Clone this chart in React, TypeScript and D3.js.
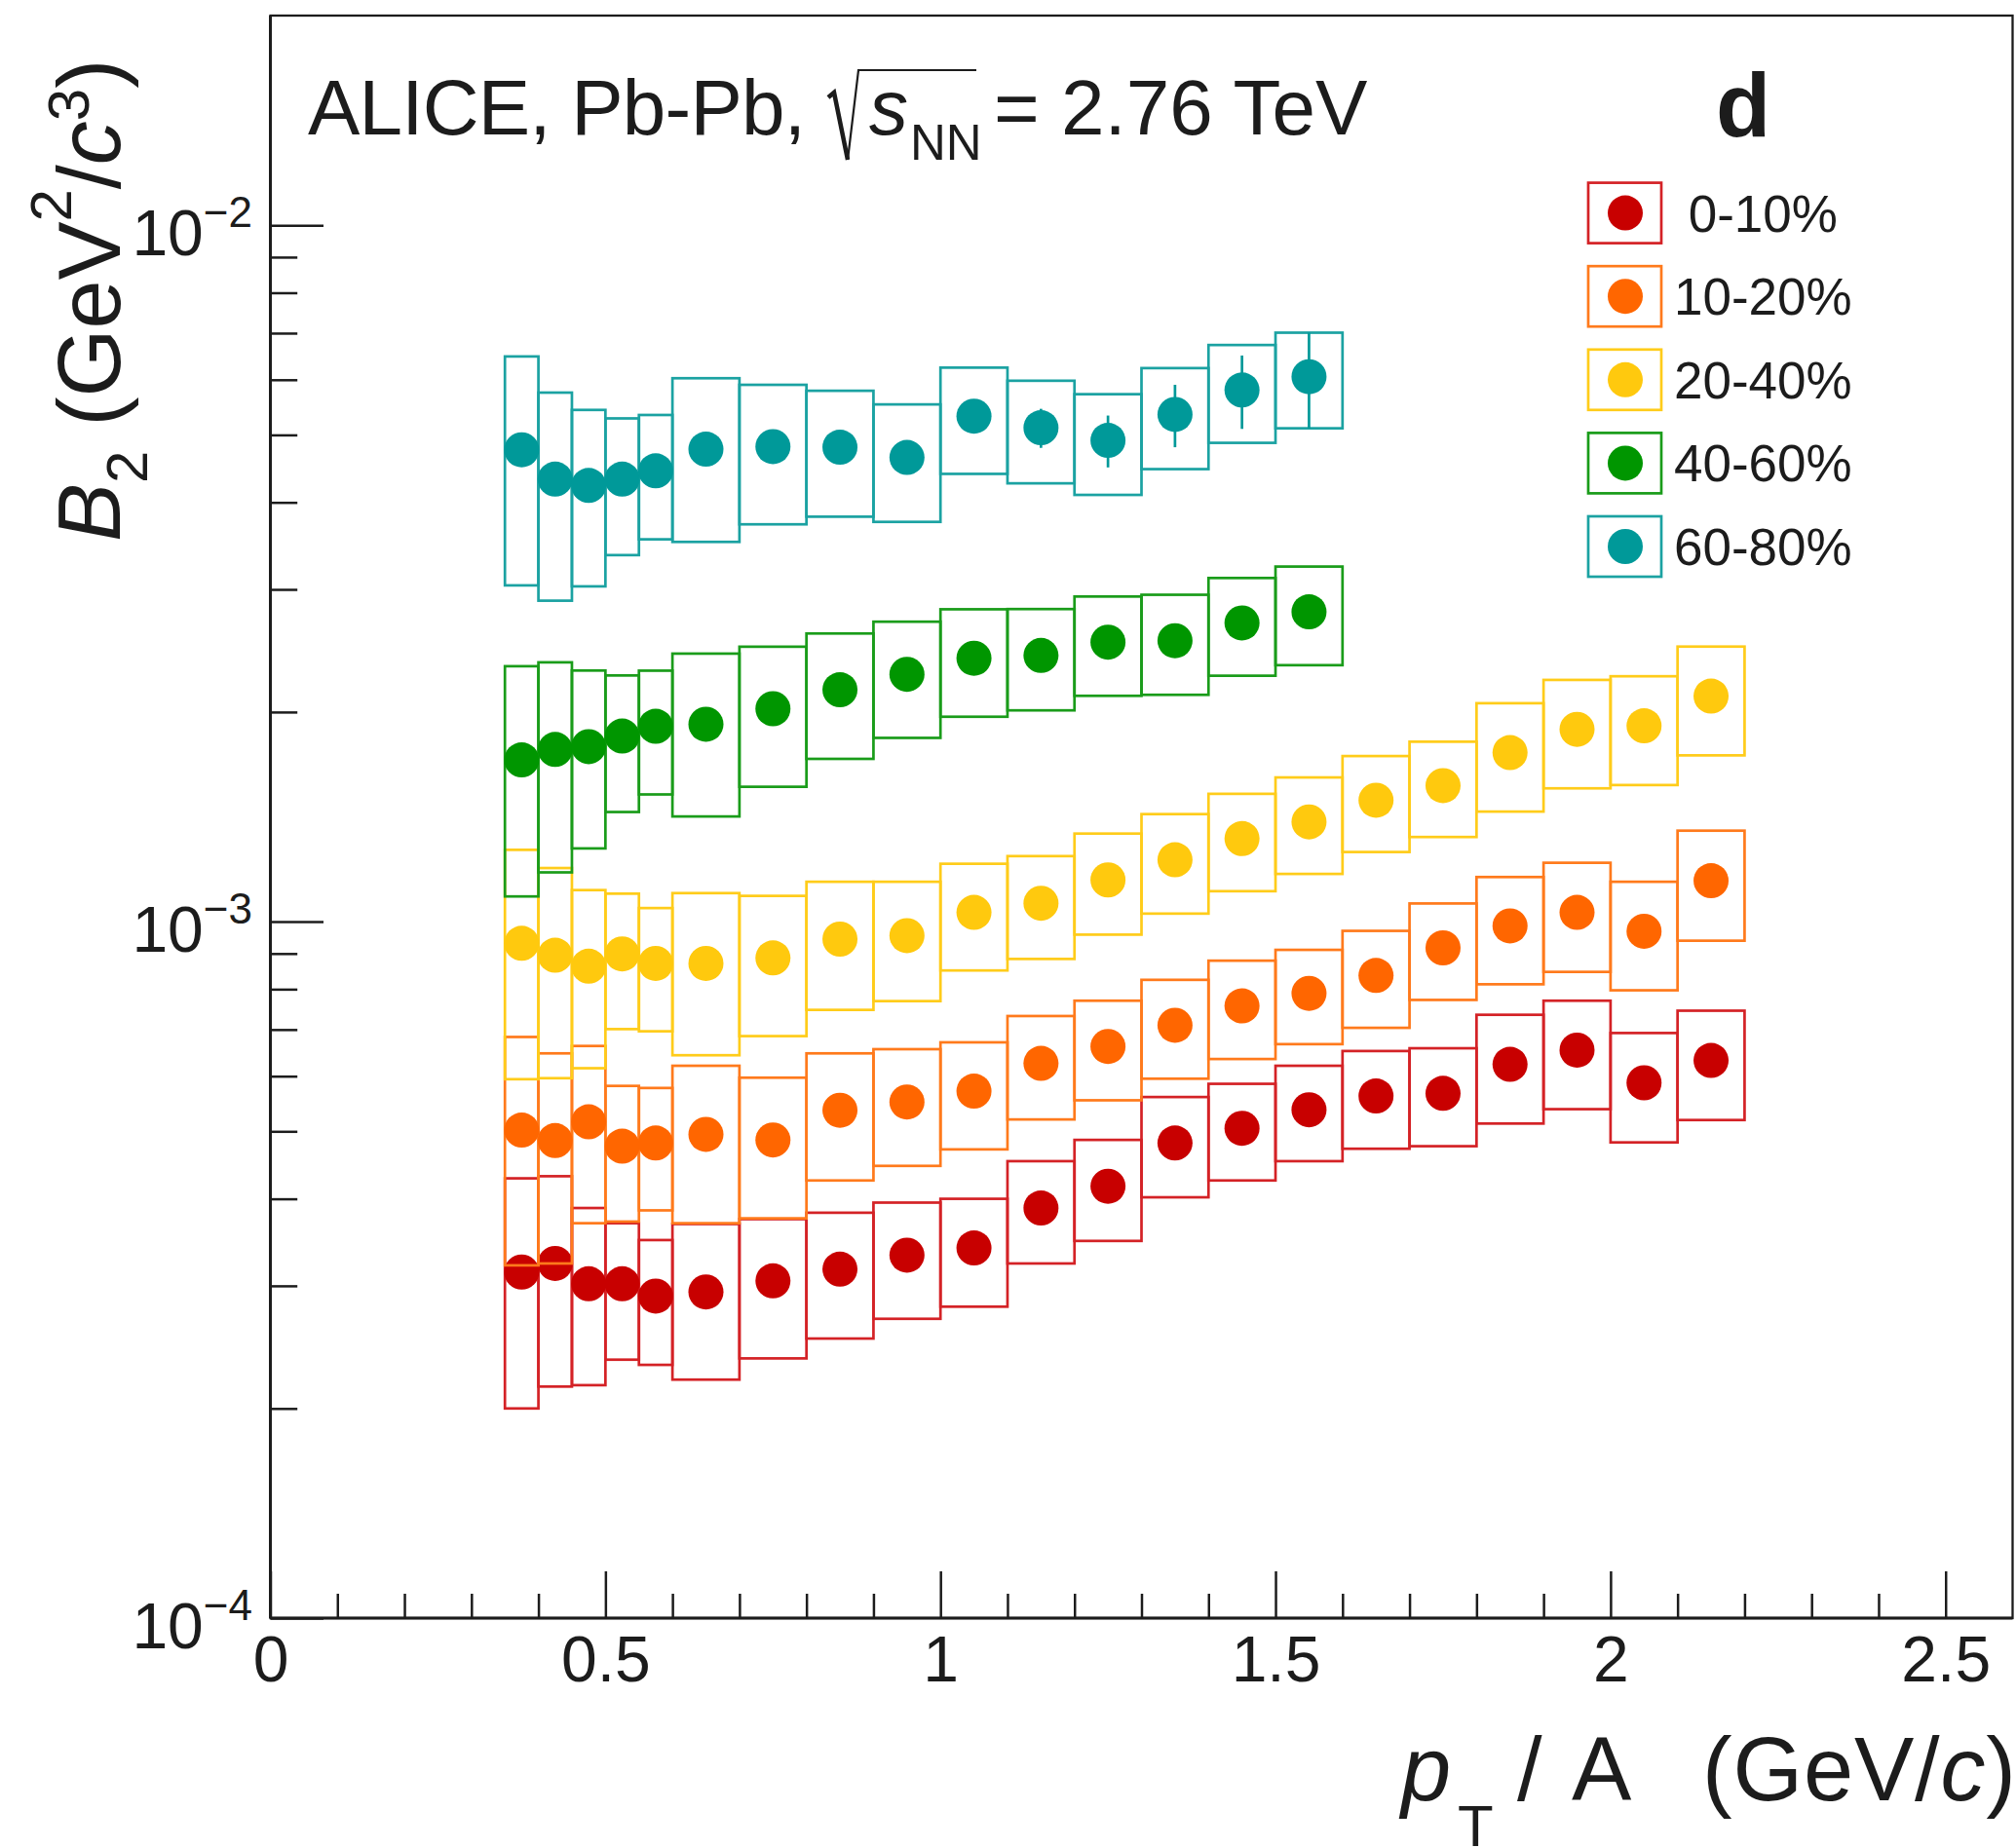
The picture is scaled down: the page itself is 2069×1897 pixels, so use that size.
import React, { useRef, useEffect } from 'react';
import * as d3 from 'd3';

// bin edges in pT/A (GeV/c)
const binLo = [0.35, 0.4, 0.45, 0.5, 0.55, 0.6, 0.7, 0.8, 0.9, 1.0, 1.1, 1.2, 1.3, 1.4, 1.5, 1.6, 1.7, 1.8, 1.9, 2.0, 2.1];
const binHi = [0.4, 0.45, 0.5, 0.55, 0.6, 0.7, 0.8, 0.9, 1.0, 1.1, 1.2, 1.3, 1.4, 1.5, 1.6, 1.7, 1.8, 1.9, 2.0, 2.1, 2.2];

const centLabels = [" 0-10%", "10-20%", "20-40%", "40-60%", "60-80%"];

// B2 values and systematic uncertainties
const b2_0_10 = [3.14e-4, 3.23e-4, 3.02e-4, 3.02e-4, 2.90e-4, 2.94e-4, 3.05e-4, 3.17e-4, 3.32e-4, 3.40e-4, 3.88e-4, 4.17e-4, 4.81e-4, 5.05e-4, 5.37e-4, 5.62e-4, 5.67e-4, 6.24e-4, 6.54e-4, 5.87e-4, 6.32e-4];
const sys_0_10 = [1.14e-4, 1.08e-4, 0.86e-4, 0.67e-4, 0.59e-4, 0.74e-4, 0.69e-4, 0.65e-4, 0.63e-4, 0.60e-4, 0.65e-4, 0.69e-4, 0.79e-4, 0.80e-4, 0.84e-4, 0.90e-4, 0.91e-4, 1.11e-4, 1.16e-4, 1.05e-4, 1.13e-4];

const b2_10_20 = [5.02e-4, 4.85e-4, 5.16e-4, 4.76e-4, 4.81e-4, 4.95e-4, 4.86e-4, 5.36e-4, 5.51e-4, 5.71e-4, 6.26e-4, 6.62e-4, 7.10e-4, 7.57e-4, 7.89e-4, 8.37e-4, 9.17e-4, 9.86e-4, 10.31e-4, 9.69e-4, 11.45e-4];
const sys_10_20 = [1.81e-4, 1.62e-4, 1.47e-4, 1.05e-4, 0.96e-4, 1.26e-4, 1.11e-4, 1.11e-4, 1.05e-4, 1.00e-4, 1.06e-4, 1.08e-4, 1.15e-4, 1.22e-4, 1.22e-4, 1.33e-4, 1.45e-4, 1.73e-4, 1.84e-4, 1.72e-4, 2.06e-4];

const b2_20_40 = [9.31e-4, 8.95e-4, 8.63e-4, 8.99e-4, 8.71e-4, 8.71e-4, 8.87e-4, 9.44e-4, 9.55e-4, 1.031e-3, 1.063e-3, 1.148e-3, 1.227e-3, 1.316e-3, 1.391e-3, 1.494e-3, 1.568e-3, 1.749e-3, 1.889e-3, 1.911e-3, 2.108e-3];
const sys_20_40 = [3.37e-4, 2.99e-4, 2.47e-4, 1.98e-4, 1.75e-4, 2.28e-4, 2.02e-4, 1.97e-4, 1.86e-4, 1.80e-4, 1.79e-4, 1.90e-4, 2.00e-4, 2.10e-4, 2.20e-4, 2.35e-4, 2.45e-4, 3.10e-4, 3.35e-4, 3.40e-4, 3.75e-4];

const b2_40_60 = [1.707e-3, 1.767e-3, 1.784e-3, 1.847e-3, 1.908e-3, 1.921e-3, 2.022e-3, 2.153e-3, 2.266e-3, 2.389e-3, 2.411e-3, 2.520e-3, 2.532e-3, 2.685e-3, 2.785e-3];
const sys_40_60 = [0.62e-3, 0.59e-3, 0.51e-3, 0.41e-3, 0.385e-3, 0.505e-3, 0.46e-3, 0.44e-3, 0.43e-3, 0.42e-3, 0.40e-3, 0.41e-3, 0.415e-3, 0.43e-3, 0.45e-3];

const b2_60_80 = [4.76e-3, 4.32e-3, 4.23e-3, 4.32e-3, 4.44e-3, 4.77e-3, 4.81e-3, 4.80e-3, 4.64e-3, 5.32e-3, 5.12e-3, 4.91e-3, 5.35e-3, 5.80e-3, 6.06e-3];
const sys_60_80 = [1.72e-3, 1.43e-3, 1.20e-3, 0.96e-3, 0.90e-3, 1.26e-3, 1.09e-3, 0.985e-3, 0.89e-3, 0.925e-3, 0.86e-3, 0.81e-3, 0.885e-3, 0.93e-3, 0.95e-3];
const stat_60_80 = [0.06e-3, 0.06e-3, 0.06e-3, 0.06e-3, 0.06e-3, 0.08e-3, 0.10e-3, 0.12e-3, 0.15e-3, 0.22e-3, 0.33e-3, 0.42e-3, 0.55e-3, 0.70e-3, 0.95e-3];

const markerColors = ["#c80000", "#ff6600", "#ffc90e", "#009600", "#009999"];
const boxColors = ["#d42226", "#ff7a1c", "#ffcc1a", "#1a9c1a", "#1ba2a2"];

const series = [
  { values: b2_0_10, sys: sys_0_10, stat: null },
  { values: b2_10_20, sys: sys_10_20, stat: null },
  { values: b2_20_40, sys: sys_20_40, stat: null },
  { values: b2_40_60, sys: sys_40_60, stat: null },
  { values: b2_60_80, sys: sys_60_80, stat: stat_60_80 },
];

const layout = { width: 2069, height: 1897, left: 277.5, right: 2065.5, top: 16, bottom: 1661 };
const FONT = "'Liberation Sans', Arial, Helvetica, sans-serif";
const INK = "#1c1c1c";

export default function App() {
  const ref = useRef<SVGSVGElement>(null);

  useEffect(() => {
    const svg = d3.select(ref.current);
    const x = d3.scaleLinear().domain([0, 2.6]).range([layout.left, layout.right]);
    const y = d3.scaleLog().domain([1e-4, 2e-2]).range([layout.bottom, layout.top]);

    const vis = svg.select("#vis");
    vis.selectAll("*").remove();

    series.forEach((s, k) => {
      const pts = s.values.map((v, i) => ({ v, i, sys: s.sys[i], stat: s.stat ? s.stat[i] : 0 }));
      const gs = vis.append("g");

      // systematic boxes
      gs.selectAll("rect")
        .data(pts)
        .join("rect")
        .attr("x", d => x(binLo[d.i]))
        .attr("width", d => x(binHi[d.i]) - x(binLo[d.i]))
        .attr("y", d => y(d.v + d.sys))
        .attr("height", d => y(d.v - d.sys) - y(d.v + d.sys))
        .attr("fill", "none")
        .attr("stroke", boxColors[k])
        .attr("stroke-width", 2.7);

      // statistical error bars
      if (s.stat) {
        gs.selectAll("line")
          .data(pts)
          .join("line")
          .attr("x1", d => x((binLo[d.i] + binHi[d.i]) / 2))
          .attr("x2", d => x((binLo[d.i] + binHi[d.i]) / 2))
          .attr("y1", d => y(d.v + d.stat))
          .attr("y2", d => y(d.v - d.stat))
          .attr("stroke", markerColors[k])
          .attr("stroke-width", 2.7);
      }

      gs.selectAll("circle")
        .data(pts)
        .join("circle")
        .attr("cx", d => x((binLo[d.i] + binHi[d.i]) / 2))
        .attr("cy", d => y(d.v))
        .attr("r", 18)
        .attr("fill", markerColors[k]);
    });

    // x axis
    const xMinor = d3.range(1, 26).map(d => d / 10).filter(d => Math.abs(d * 2 - Math.round(d * 2)) > 1e-6);
    svg.select("#xminor")
      .attr("transform", `translate(0,${layout.bottom})`)
      .call(d3.axisBottom(x).tickValues(xMinor).tickSize(-25).tickFormat(() => ""))
      .call(g => g.select(".domain").remove());
    svg.select("#xaxis")
      .attr("transform", `translate(0,${layout.bottom})`)
      .call(d3.axisBottom(x).tickValues([0, 0.5, 1, 1.5, 2, 2.5]).tickSize(-48).tickPadding(18).tickFormat(d => String(d)))
      .call(g => g.select(".domain").remove())
      .call(g => g.selectAll("text").attr("font-size", 66).attr("font-family", FONT).attr("fill", INK));

    // y axis
    const yMinor = [2, 3, 4, 5, 6, 7, 8, 9].flatMap(m => [m * 1e-4, m * 1e-3]);
    svg.select("#yminor")
      .attr("transform", `translate(${layout.left},0)`)
      .call(d3.axisLeft(y).tickValues(yMinor).tickSize(-27.7).tickFormat(() => ""))
      .call(g => g.select(".domain").remove());
    svg.select("#yaxis")
      .attr("transform", `translate(${layout.left},0)`)
      .call(d3.axisLeft(y).tickValues([1e-4, 1e-3, 1e-2]).tickSize(-54.5).tickFormat(() => ""))
      .call(g => g.select(".domain").remove());

    svg.selectAll("#xaxis line, #xminor line, #yaxis line, #yminor line")
      .attr("stroke", INK).attr("stroke-width", 2.5);

    const ylab = svg.select("#ylabels");
    ylab.selectAll("*").remove();
    [1e-4, 1e-3, 1e-2].forEach(v => {
      const t = ylab.append("text")
        .attr("x", 259)
        .attr("y", y(v) + 31)
        .attr("text-anchor", "end")
        .attr("font-family", FONT)
        .attr("fill", INK);
      t.append("tspan").attr("font-size", 66).text("10");
      t.append("tspan").attr("font-size", 44).attr("dy", -29).text("\u2212" + Math.round(-Math.log10(v)));
    });
  }, []);

  const legendY = centLabels.map((_, i) => 218.6 + i * 85.6);

  return (
    <svg ref={ref} width={layout.width} height={layout.height}
      style={{ position: 'absolute', left: 0, top: 0, background: '#fff' }}>
      <rect x={0} y={0} width={layout.width} height={layout.height} fill="#fff" />
      <g id="vis" />
      <g id="xminor" />
      <g id="xaxis" />
      <g id="yminor" />
      <g id="yaxis" />
      <g id="ylabels" />
      <rect x={layout.left} y={layout.top} width={layout.right - layout.left} height={layout.bottom - layout.top}
        fill="none" stroke={INK} strokeWidth={2.3} />
      <line x1={layout.left} x2={layout.left} y1={layout.top} y2={layout.bottom} stroke={INK} strokeWidth={3} />
      <line x1={layout.left} x2={layout.right} y1={layout.bottom} y2={layout.bottom} stroke={INK} strokeWidth={3} />

      {/* header */}
      <g fontFamily={FONT} fill={INK}>
        <text x={316} y={138} fontSize={80} textLength={511} lengthAdjust="spacing">ALICE, Pb-Pb,</text>
        <path d="M850,100 L856,95 L870,164" fill="none" stroke={INK} strokeWidth={4.5} />
        <path d="M870,164 L881,72 L1002,72" fill="none" stroke={INK} strokeWidth={2.2} />
        <text x={892} y={138} fontSize={80} fontStyle="italic">s</text>
        <text x={934} y={164} fontSize={51}>NN</text>
        <text x={1020} y={138} fontSize={80}>= 2.76 TeV</text>
        <text x={1789} y={140} fontSize={92} fontWeight="bold" textAnchor="middle">d</text>
      </g>

      {/* legend */}
      <g fontFamily={FONT} fill={INK}>
        {centLabels.map((lab, i) => (
          <g key={lab}>
            <rect x={1630} y={legendY[i] - 31} width={75} height={62} fill="#fff" stroke={boxColors[i]} strokeWidth={2.7} />
            <circle cx={1668} cy={legendY[i]} r={18} fill={markerColors[i]} />
            <text x={1718} y={legendY[i] + 19} fontSize={53} style={{ whiteSpace: 'pre' }}>{lab}</text>
          </g>
        ))}
      </g>

      {/* y title */}
      <text transform="translate(123,556) rotate(-90)" fontFamily={FONT} fill={INK} fontSize={90}>
        <tspan fontStyle="italic">B</tspan>
        <tspan fontSize={60} dy={28}>2</tspan>
        <tspan dy={-28} style={{ whiteSpace: 'pre' }}> (GeV</tspan>
        <tspan fontSize={60} dy={-50}>2</tspan>
        <tspan dy={50}>/</tspan>
        <tspan fontStyle="italic">c</tspan>
        <tspan fontSize={60} dy={-32}>3</tspan>
        <tspan dy={32}>)</tspan>
      </text>

      {/* x title */}
      <g fontFamily={FONT} fill={INK} fontSize={92}>
        <text x={1438} y={1848} fontStyle="italic">p</text>
        <text x={1496} y={1895} fontSize={60}>T</text>
        <text x={1557} y={1848}>/</text>
        <text x={1613} y={1848}>A</text>
        <text x={1747} y={1848} textLength={322} lengthAdjust="spacing">(GeV/<tspan fontStyle="italic">c</tspan>)</text>
      </g>
    </svg>
  );
}
